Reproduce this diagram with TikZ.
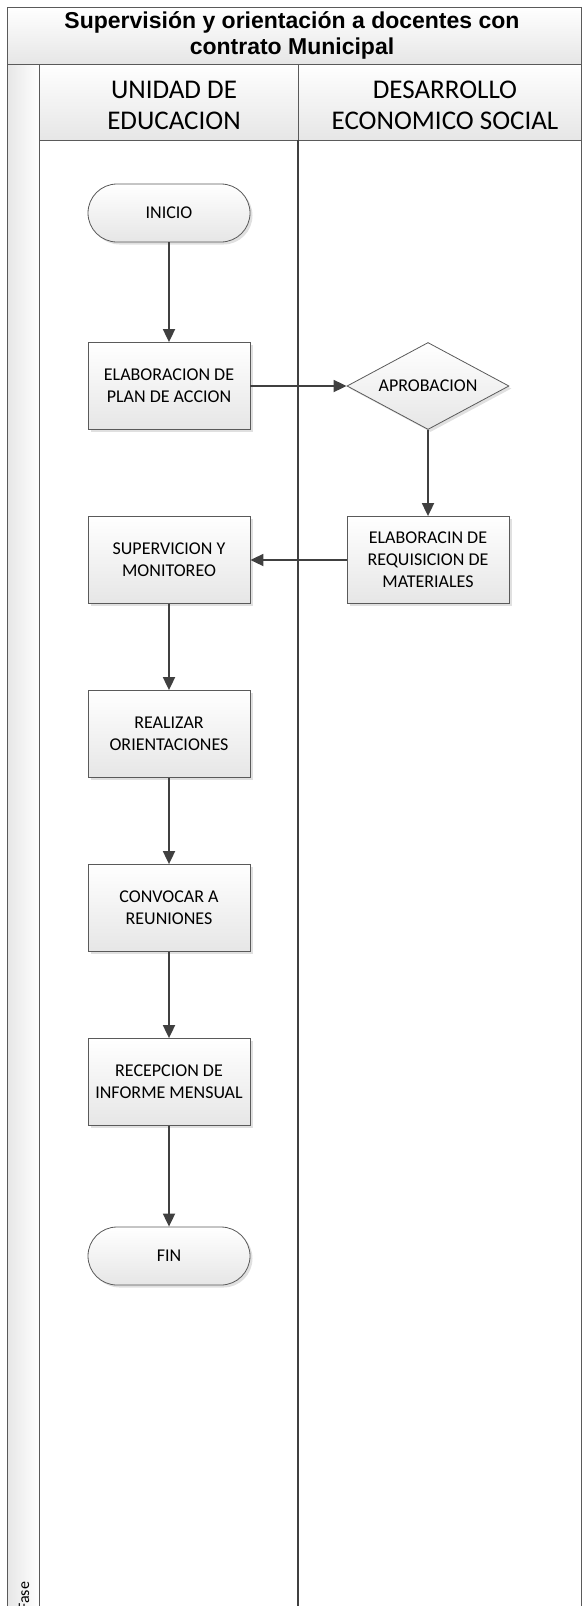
\documentclass[tikz,border=0pt]{standalone}
\usepackage{fontspec}
\setmainfont{Carlito}
\newfontfamily\titlefont{Liberation Sans}
\usetikzlibrary{arrows.meta,shapes.geometric,shadows}

\definecolor{linegray}{HTML}{404040}
\definecolor{framegray}{HTML}{5A5A5A}
\definecolor{boxgray}{HTML}{E6E6E6}

\begin{document}
\begin{tikzpicture}[x=1pt,y=-1pt,
    proc/.style={draw=framegray, line width=0.8pt, top color=white, bottom color=boxgray,
      minimum width=162pt, minimum height=87pt, inner sep=0pt, align=center,
      font=\fontsize{18}{22}\selectfont,
      drop shadow={shadow xshift=2.5pt, shadow yshift=-2.5pt, fill=black!12, opacity=1}},
    term/.style={proc, rounded corners=29pt, minimum height=58pt},
    decision/.style={proc, diamond, aspect=1.9, drop shadow={opacity=0}},
    flow/.style={draw=linegray, line width=1.8pt, -{Triangle[length=13pt,width=12pt]}},
    band/.style={draw=framegray, line width=0.9pt, top color=white, bottom color=boxgray},
    lanehead/.style={font=\fontsize{27}{31}\selectfont, align=center}]
  \useasboundingbox (0,0) rectangle (582,1606);
  \clip (0,0) rectangle (582,1606);

  % pool frame, title and lane headers
  \path[band] (7,7) rectangle (581,64);
  \node[font=\titlefont\bfseries\fontsize{23}{26}\selectfont, align=center]
    (title) at (292,35) {Supervisión y orientación a docentes con\\contrato Municipal};
  \path[draw=framegray, line width=0.9pt, left color=boxgray, right color=white]
    (7,64) rectangle (39,1620);
  \path[band] (39,64) rectangle (298,140);
  \path[band] (298,64) rectangle (581,140);
  \node[lanehead] (lane1) at (174,105) {UNIDAD DE\\EDUCACION};
  \node[lanehead] (lane2) at (445,105) {DESARROLLO\\ECONOMICO SOCIAL};
  \draw[framegray, line width=0.9pt] (581,140) -- (581,1620);
  \draw[linegray, line width=2pt] (298,140) -- (298,1620);
  \node[rotate=90, anchor=west, inner sep=0pt, font=\fontsize{16}{18}\selectfont]
    (fase) at (24,1611) {Fase};

  % activities
  \node[term] (inicio) at (169,213) {INICIO};
  \node[proc] (plan) at (169,386) {ELABORACION DE\\PLAN DE ACCION};
  \node[decision] (aprob) at (428,386) {APROBACION};
  \node[proc] (req) at (428,560) {ELABORACIN DE\\REQUISICION DE\\MATERIALES};
  \node[proc] (superv) at (169,560) {SUPERVICION Y\\MONITOREO};
  \node[proc] (orient) at (169,734) {REALIZAR\\ORIENTACIONES};
  \node[proc] (convoc) at (169,908) {CONVOCAR A\\REUNIONES};
  \node[proc] (recep) at (169,1082) {RECEPCION DE\\INFORME MENSUAL};
  \node[term] (fin) at (169,1256) {FIN};

  \begin{scope}[flow]
    \draw (inicio) to (plan);
    \draw (plan) to (aprob);
    \draw (aprob) to (req);
    \draw (req) to (superv);
    \draw (superv) to (orient);
    \draw (orient) to (convoc);
    \draw (convoc) to (recep);
    \draw (recep) to (fin);
  \end{scope}
\end{tikzpicture}
\end{document}
